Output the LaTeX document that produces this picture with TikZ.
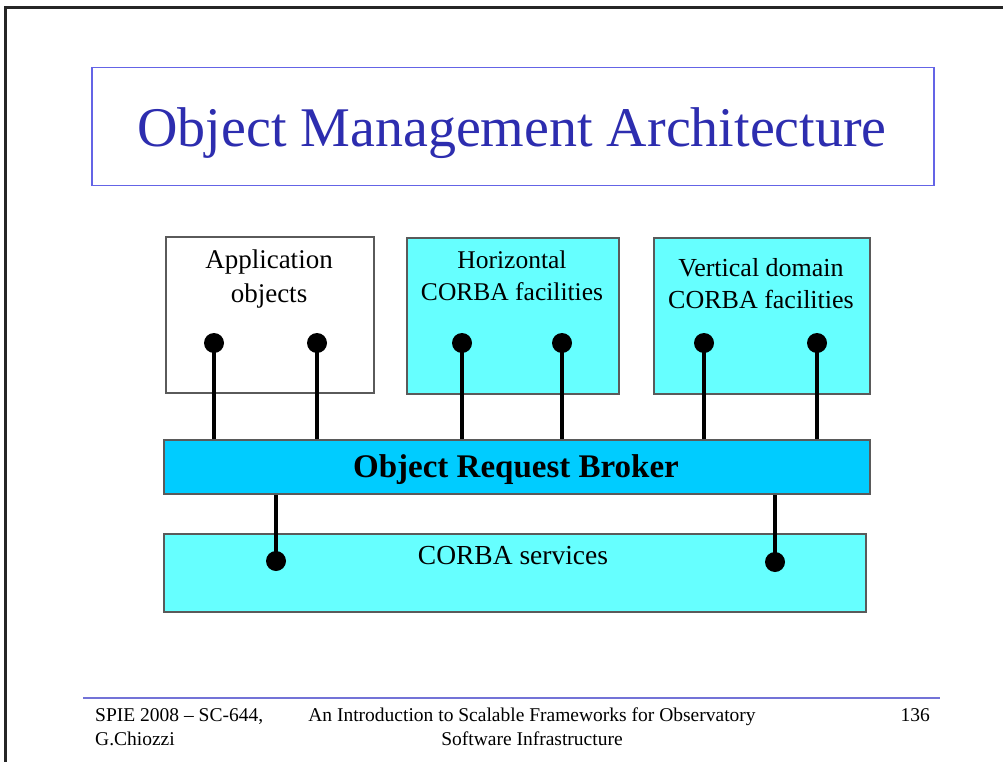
\documentclass[tikz,border=0pt]{standalone}
\usepackage{fontspec}
\setmainfont{Liberation Serif}
\definecolor{titleblue}{RGB}{45,45,175}
\definecolor{titleframe}{RGB}{100,100,230}
\definecolor{footline}{RGB}{115,115,215}
\definecolor{cyanbox}{RGB}{102,255,255}
\definecolor{orbblue}{RGB}{0,204,255}
\definecolor{boxedge}{RGB}{90,90,90}
\tikzset{
  blockbox/.style={draw=boxedge, line width=1.5pt, anchor=north west, inner sep=0pt},
  boxtext/.style={font=\fontsize{#1}{30}\selectfont, anchor=base, inner sep=0pt},
  plug/.style={circle, fill=black, inner sep=0pt, minimum size=20pt},
  wire/.style={line width=4pt, black},
  foottext/.style={font=\fontsize{19.5}{23}\selectfont, inner sep=0pt}
}
\begin{document}
\begin{tikzpicture}[x=1pt,y=-1pt]
\useasboundingbox (0,0) rectangle (1003,762);
\fill[white] (0,0) rectangle (1003,762);
% slide frame
\draw[line width=3pt, black!85] (5,762) -- (5,8) -- (1003,8);
% title
\node[draw=titleframe, line width=1.5pt, anchor=north west, minimum width=842pt, minimum height=118pt, inner sep=0pt] (titlebox) at (91,67) {};
\node[text=titleblue, font=\fontsize{56}{60}\selectfont, inner sep=0pt, anchor=base] (title) at (512,147) {Object Management Architecture};
% upper boxes
\node[blockbox, fill=white, minimum width=208pt, minimum height=156pt] (app) at (165,236) {};
\node[blockbox, fill=cyanbox, minimum width=212pt, minimum height=156pt] (horiz) at (406,237) {};
\node[blockbox, fill=cyanbox, minimum width=216pt, minimum height=156pt] (vert) at (653,237) {};
\node[boxtext=27] (app1) at (269,268) {Application};
\node[boxtext=27] (app2) at (269,302) {objects};
\node[boxtext=25.5] (hor1) at (512,268) {Horizontal};
\node[boxtext=25.5] (hor2) at (512,300) {CORBA facilities};
\node[boxtext=26] (ver1) at (761,276) {Vertical domain};
\node[boxtext=26] (ver2) at (761,308) {CORBA facilities};
% ORB
\node[blockbox, fill=orbblue, minimum width=706pt, minimum height=54pt] (orb) at (163,439) {};
\node[font=\fontsize{33}{36}\selectfont\bfseries, inner sep=0pt, anchor=base] (orbtext) at (516,477) {Object Request Broker};
% services
\node[blockbox, fill=cyanbox, minimum width=702pt, minimum height=78pt] (svc) at (163,533) {};
\node[boxtext=27.5] (svctext) at (513,564) {CORBA services};
% plugs upper
\node[plug] (p1) at (214,343) {};
\node[plug] (p2) at (317,343) {};
\node[plug] (p3) at (462,343) {};
\node[plug] (p4) at (562,343) {};
\node[plug] (p5) at (704,343) {};
\node[plug] (p6) at (817,343) {};
\foreach \p in {p1,p2,p3,p4,p5,p6}
  \draw[wire] (\p.center) -- (\p.center |- orb.north);
% plugs lower
\node[plug] (q1) at (276,561) {};
\node[plug] (q2) at (775,562) {};
\foreach \q in {q1,q2}
  \draw[wire] (\q.center) -- (\q.center |- orb.south);
% footer
\coordinate (fl) at (83,698);
\coordinate (fr) at (940,698);
\draw[footline, line width=2pt] (fl) -- (fr);
\node[foottext, anchor=base west] (f1) at (95,721) {SPIE 2008 – SC-644,};
\node[foottext, anchor=base west] (f2) at (95,745) {G.Chiozzi};
\node[foottext, anchor=base] (f3) at (532,721) {An Introduction to Scalable Frameworks for Observatory};
\node[foottext, anchor=base] (f4) at (532,745) {Software Infrastructure};
\node[foottext, anchor=base east] (f5) at (930,721) {136};
\end{tikzpicture}
\end{document}
